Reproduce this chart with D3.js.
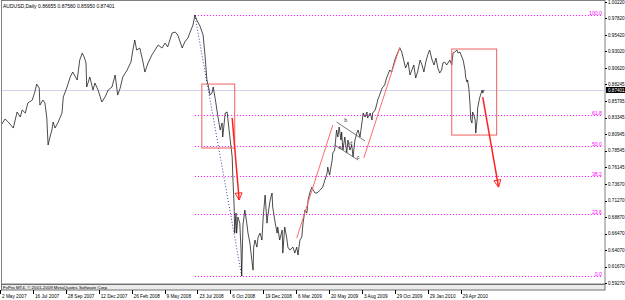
<!DOCTYPE html>
<html>
<head>
<meta charset="utf-8">
<script src="https://cdn.jsdelivr.net/npm/d3@7"></script>
<style>
  body { margin: 0; background: #fff; }
  svg { display: block; font-family: "Liberation Sans", Arial, sans-serif; }
</style>
</head>
<body>
<svg id="chart"></svg>
<script>
// values
const symbolTitle = "AUDUSD,Daily";
const lastQuote = [0.86655, 0.87580, 0.85950, 0.87401];
const priceTicks = [1.00220, 0.97820, 0.95420, 0.93020, 0.90620, 0.88245, 0.85795, 0.83345,
  0.80945, 0.78545, 0.76145, 0.73670, 0.71270, 0.68870, 0.66470, 0.64070, 0.61670, 0.59270];
const dateLabels = ["2 May 2007", "16 Jul 2007", "28 Sep 2007", "12 Dec 2007", "26 Feb 2008",
  "9 May 2008", "23 Jul 2008", "6 Oct 2008", "19 Dec 2008", "6 Mar 2009", "20 May 2009",
  "3 Aug 2009", "29 Oct 2009", "29 Jan 2010", "29 Apr 2010"];
const barsPerLabel = 52;

// [bar number, close]
const dailyCloses = [
  [3,0.8244],[8,0.8317],[13,0.8273],[21,0.8185],[27,0.8419],[32,0.8346],[35,0.8448],[40,0.8404],
  [44,0.8550],[51,0.8593],[55,0.8710],[58,0.8826],[62,0.8768],[63,0.8520],[68,0.8593],[71,0.8550],
  [74,0.8331],[76,0.7938],[79,0.8054],[82,0.8156],[84,0.8273],[87,0.8185],[92,0.8273],[98,0.8404],
  [100,0.8637],[106,0.8783],[111,0.8928],[115,0.9001],[122,0.8885],[126,0.9176],[130,0.9278],
  [133,0.9220],[136,0.9133],[137,0.8783],[142,0.8928],[147,0.8739],[150,0.8841],[155,0.8739],
  [161,0.8564],[166,0.8637],[171,0.8739],[177,0.8783],[182,0.8958],[186,0.8666],[190,0.8768],
  [194,0.8928],[201,0.9031],[207,0.9147],[210,0.9322],[213,0.9468],[216,0.9322],[221,0.9351],
  [226,0.9147],[229,0.9001],[234,0.9133],[240,0.9249],[245,0.9322],[250,0.9395],[256,0.9351],
  [261,0.9424],[265,0.9366],[272,0.9570],[277,0.9584],[281,0.9541],[288,0.9351],[292,0.9439],
  [297,0.9497],[300,0.9570],[305,0.9686],[308,0.9832],[311,0.9759],[316,0.9672],[321,0.9541],
  [324,0.9249],[327,0.8885],[329,0.8812],[332,0.8666],[335,0.8695],[337,0.8783],[340,0.8622],
  [341,0.8564],[344,0.8375],[348,0.8156],[351,0.8258],[352,0.8054],[356,0.8404],[359,0.8419],
  [360,0.8331],[363,0.8083],[367,0.7763],[368,0.7471],[370,0.7063],[371,0.6654],[373,0.6946],
  [374,0.6654],[376,0.6888],[379,0.6800],[381,0.6407],[382,0.6028],[384,0.6771],[387,0.6990],
  [390,0.6800],[392,0.6654],[395,0.6509],[398,0.6261],[400,0.6115],[401,0.6450],[403,0.6553],
  [406,0.6450],[408,0.6596],[411,0.6654],[414,0.6553],[416,0.6888],[419,0.7208],[422,0.6800],
  [423,0.6888],[427,0.7136],[430,0.7238],[431,0.7034],[435,0.6800],[438,0.6654],[439,0.6742],
  [442,0.6553],[446,0.6698],[447,0.6363],[450,0.6742],[453,0.6596],[455,0.6450],[458,0.6407],
  [463,0.6450],[466,0.6363],[469,0.6450],[471,0.6334],[474,0.6553],[477,0.6596],[479,0.6800],
  [482,0.6990],[485,0.6946],[487,0.7136],[490,0.7252],[493,0.7325],[495,0.7281],[498,0.7238],
  [501,0.7238],[506,0.7281],[510,0.7325],[517,0.7529],[518,0.7616],[521,0.7500],[525,0.7719],
  [526,0.7821],[529,0.7865],[532,0.8156],[534,0.8054],[536,0.8200],[539,0.8010],[540,0.8127],
  [542,0.7865],[545,0.8054],[548,0.7821],[550,0.8010],[553,0.7865],[556,0.7938],[558,0.7763],
  [561,0.8010],[564,0.8112],[566,0.8156],[569,0.8054],[572,0.8258],[574,0.8404],[577,0.8346],
  [580,0.8419],[581,0.8331],[585,0.8404],[588,0.8302],[589,0.8404],[593,0.8448],[596,0.8550],
  [597,0.8593],[600,0.8666],[604,0.8768],[608,0.8812],[611,0.8914],[616,0.9031],[619,0.9001],
  [624,0.9176],[627,0.9249],[632,0.9351],[635,0.9293],[638,0.9176],[641,0.9060],[645,0.9147],
  [648,0.8958],[651,0.9031],[654,0.9104],[657,0.8914],[660,0.9001],[664,0.9176],[667,0.9104],
  [670,0.9001],[673,0.9147],[676,0.9249],[679,0.9322],[683,0.9176],[686,0.9104],[689,0.9205],
  [692,0.9060],[695,0.8987],[698,0.9031],[700,0.9133],[703,0.9147],[706,0.9104],[708,0.9133],
  [711,0.9176],[714,0.9104],[716,0.9278],[719,0.9293],[722,0.9322],[724,0.9278],[727,0.9293],
  [730,0.9220],[732,0.9176],[735,0.9031],[736,0.8928],[738,0.8856],[739,0.8885],[741,0.8768],
  [743,0.8520],[744,0.8302],[746,0.8258],[747,0.8419],[749,0.8375],[751,0.8302],[752,0.8112],
  [754,0.8302],[755,0.8477],[758,0.8622],[762,0.8739],[763,0.8695],[765,0.8740]
];

// fibonacci retracement anchored on the 2008 high and low
const fibLevels = [0, 23.6, 38.2, 50, 61.8, 100];
const fibHigh = [308, 0.9832];
const fibLow = [382, 0.6028];

// drawn objects: [bar1, price1, bar2, price2]
const boxes = [[319, 0.8826, 371, 0.7894], [714, 0.9337, 785, 0.8083]];
const arrows = [[367, 0.8331, 378, 0.7136], [763, 0.8637, 788, 0.7325]];
const trendLines = [[469, 0.6582, 526, 0.8229], [575, 0.7748, 632, 0.9366]];
const channelLines = [[532, 0.8273, 577, 0.7996], [529, 0.7938, 566, 0.7719]];
const channelMarks = [["b", 544, 0.8273], ["a", 535, 0.7880], ["d", 552, 0.7940], ["c", 564, 0.7730]];

const width = 625, height = 300;
const plotRight = 605, plotBottom = 284;

const svg = d3.select("#chart").attr("width", width).attr("height", height);

const x = d3.scaleLinear()
    .domain([0, barsPerLabel * (dateLabels.length - 1)])
    .range([0, 460.6]);
const y = d3.scaleLinear()
    .domain([0.5927, 1.0022])
    .range([283, 2]);

// frame
svg.append("rect")
    .attr("x", 1.5).attr("y", 0.5)
    .attr("width", plotRight - 1.5).attr("height", plotBottom - 0.5)
    .attr("fill", "#fff").attr("stroke", "#808080");

svg.append("clipPath").attr("id", "plot")
  .append("rect").attr("x", 2).attr("y", 1).attr("width", plotRight - 2).attr("height", plotBottom - 1);
const plot = svg.append("g").attr("clip-path", "url(#plot)");

// current price line
plot.append("line")
    .attr("x1", 2).attr("x2", plotRight)
    .attr("y1", Math.round(y(lastQuote[3])) + 0.5).attr("y2", Math.round(y(lastQuote[3])) + 0.5)
    .attr("stroke", "#d2d2ec");

// fibo levels
const fibRange = fibHigh[1] - fibLow[1];
const fibG = plot.append("g");
fibLevels.forEach(lv => {
  const yy = Math.round(y(fibLow[1] + fibRange * lv / 100)) + 0.5;
  fibG.append("line")
      .attr("x1", x(fibHigh[0])).attr("x2", plotRight - 2)
      .attr("y1", yy).attr("y2", yy)
      .attr("stroke", "#ff00ff").attr("stroke-dasharray", "1,2");
  fibG.append("text")
      .attr("x", plotRight - 3).attr("y", yy - 1)
      .attr("text-anchor", "end")
      .attr("font-size", 5.2).attr("fill", "#ff00ff")
      .text(lv.toFixed(1));
});

// blue dotted trend from high to low
plot.append("line")
    .attr("x1", x(fibHigh[0])).attr("y1", y(fibHigh[1]))
    .attr("x2", x(fibLow[0])).attr("y2", y(fibLow[1]))
    .attr("stroke", "#3c3ca0").attr("stroke-dasharray", "1,2");

// price line
plot.append("path")
    .datum(dailyCloses)
    .attr("fill", "none")
    .attr("stroke", "#111")
    .attr("stroke-width", 0.75)
    .attr("d", d3.line().x(d => x(d[0])).y(d => y(d[1])));

// boxes
plot.selectAll(".box").data(boxes).enter().append("rect")
    .attr("x", d => x(d[0])).attr("y", d => y(d[1]))
    .attr("width", d => x(d[2]) - x(d[0])).attr("height", d => y(d[3]) - y(d[1]))
    .attr("fill", "none").attr("stroke", "#f06060");

// light red trend lines and channel
plot.selectAll(".trend").data(trendLines).enter().append("line")
    .attr("x1", d => x(d[0])).attr("y1", d => y(d[1]))
    .attr("x2", d => x(d[2])).attr("y2", d => y(d[3]))
    .attr("stroke", "#ff6a6a");
plot.selectAll(".chan").data(channelLines).enter().append("line")
    .attr("x1", d => x(d[0])).attr("y1", d => y(d[1]))
    .attr("x2", d => x(d[2])).attr("y2", d => y(d[3]))
    .attr("stroke", "#555").attr("stroke-width", 0.8);
plot.selectAll(".mark").data(channelMarks).enter().append("text")
    .attr("x", d => x(d[1])).attr("y", d => y(d[2]))
    .attr("font-size", 5.5).attr("fill", "#333")
    .text(d => d[0]);

// red arrows
arrows.forEach(a => {
  const x1 = x(a[0]), y1 = y(a[1]), x2 = x(a[2]), y2 = y(a[3]);
  const len = Math.hypot(x2 - x1, y2 - y1), ux = (x2 - x1) / len, uy = (y2 - y1) / len;
  plot.append("line")
      .attr("x1", x1).attr("y1", y1).attr("x2", x2).attr("y2", y2)
      .attr("stroke", "#ff2020").attr("stroke-width", 1.5);
  const bx = x2 - ux * 7, by = y2 - uy * 7;
  plot.append("path")
      .attr("d", `M${x2},${y2}L${bx - uy * 3.5},${by + ux * 3.5}L${bx + uy * 3.5},${by - ux * 3.5}Z`)
      .attr("fill", "none").attr("stroke", "#ff2020").attr("stroke-width", 1);
});

// title
svg.append("text")
    .attr("x", 3).attr("y", 7.5)
    .attr("font-size", 5).attr("fill", "#000")
    .text(`${symbolTitle}  ${lastQuote.map(v => v.toFixed(5)).join(" ")}`);

// price axis
const yAxis = svg.append("g");
yAxis.selectAll("line").data(priceTicks).enter().append("line")
    .attr("x1", plotRight).attr("x2", plotRight + 2)
    .attr("y1", d => Math.round(y(d)) + 0.5).attr("y2", d => Math.round(y(d)) + 0.5)
    .attr("stroke", "#000");
yAxis.selectAll("text").data(priceTicks).enter().append("text")
    .attr("x", plotRight + 3).attr("y", d => y(d) + 1.7)
    .attr("font-size", 4.6).attr("fill", "#000")
    .text(d => d.toFixed(5));

// last price tag
const lp = y(lastQuote[3]);
svg.append("rect")
    .attr("x", plotRight + 1).attr("y", lp - 3).attr("width", width - plotRight).attr("height", 6)
    .attr("fill", "#000");
svg.append("text")
    .attr("x", plotRight + 3).attr("y", lp + 1.7)
    .attr("font-size", 4.6).attr("fill", "#fff")
    .text(lastQuote[3].toFixed(5));

// bottom band with copyright
svg.append("rect").attr("x", 1.5).attr("y", plotBottom + 0.5).attr("width", plotRight - 1.5).attr("height", 5.5)
    .attr("fill", "#ececec").attr("stroke", "#707070");
svg.append("text")
    .attr("x", 3).attr("y", plotBottom + 4.6)
    .attr("font-size", 4.4).attr("fill", "#000")
    .text("FxPro MT4, \u00a9 2001-2009 MetaQuotes Software Corp.");

// time axis
const xAxis = svg.append("g");
xAxis.selectAll("line").data(dateLabels).enter().append("line")
    .attr("x1", (d, i) => Math.round(x(i * barsPerLabel)) + 0.5)
    .attr("x2", (d, i) => Math.round(x(i * barsPerLabel)) + 0.5)
    .attr("y1", plotBottom + 6).attr("y2", plotBottom + 10)
    .attr("stroke", "#000");
xAxis.selectAll("text").data(dateLabels).enter().append("text")
    .attr("x", (d, i) => x(i * barsPerLabel) + 2)
    .attr("y", 297.5)
    .attr("font-size", 4.7).attr("fill", "#000")
    .text(d => d);
</script>
</body>
</html>
